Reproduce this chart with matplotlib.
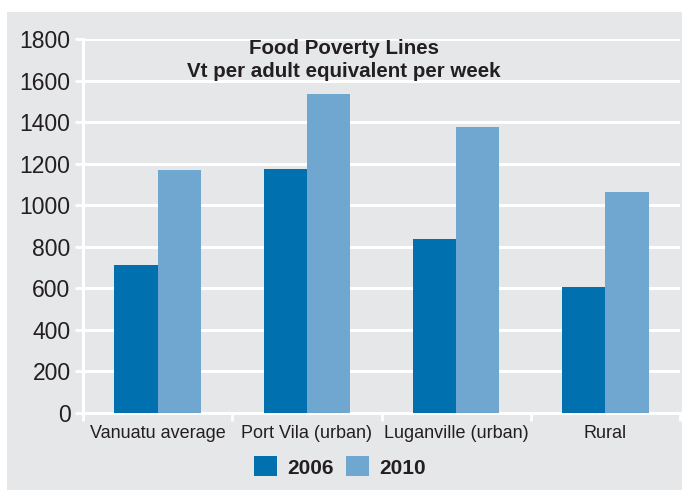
"""
Food Poverty Lines - Vt per adult equivalent per week, 2006 vs 2010.
"""

import matplotlib
matplotlib.use("Agg")
import matplotlib.pyplot as plt
import numpy as np
from matplotlib.patches import Patch, Rectangle

categories = ["Vanuatu average", "Port Vila (urban)", "Luganville (urban)", "Rural"]
years = ["2006", "2010"]
values_2006 = [711, 1173, 836, 605]
values_2010 = [1168, 1534, 1375, 1063]
yticks = [0, 200, 400, 600, 800, 1000, 1200, 1400, 1600, 1800]

DARK = "#0071ae"
LIGHT = "#6fa7d0"
PANEL = "#e6e7e9"
INK = "#231f20"

plt.rcParams["font.family"] = ["Liberation Sans", "DejaVu Sans"]

fig = plt.figure(figsize=(6.82, 4.91), dpi=100)
fig.patch.set_facecolor("white")
# pannello grigio dietro al grafico
fig.patches.append(Rectangle((7 / 682, 0.002), 1 - 7 / 682, 1 - 12 / 491 - 0.002,
                             transform=fig.transFigure, facecolor=PANEL,
                             edgecolor="none", zorder=-10))

ax = fig.add_axes([83 / 682, 1 - 413 / 491, (680 - 83) / 682, (413 - 39) / 491])
ax.patch.set_visible(False)

x = np.arange(len(categories))
w = 0.29
ax.bar(x - w / 2, values_2006, width=w, color=DARK, zorder=3)
ax.bar(x + w / 2, values_2010, width=w, color=LIGHT, zorder=3)

ax.set_xlim(-0.5, len(categories) - 0.5)
ax.set_ylim(0, 1800)
ax.set_yticks(yticks)
ax.set_yticklabels([str(v) for v in yticks], fontsize=16.5, color=INK)
ax.yaxis.grid(True, color="white", linewidth=2.2, zorder=1)
ax.set_axisbelow(True)

ax.set_xticks(x)
ax.set_xticklabels(categories, fontsize=13, color=INK)
ax.set_xticks(np.arange(len(categories) + 1) - 0.5, minor=True)
ax.tick_params(axis="x", which="major", length=0, pad=9)
ax.tick_params(axis="x", which="minor", length=6, width=2, color="white", direction="out")
ax.tick_params(axis="y", length=6, width=2, color="white", pad=3)

for side in ["top", "right"]:
    ax.spines[side].set_visible(False)
for side in ["left", "bottom"]:
    ax.spines[side].set_color("white")
    ax.spines[side].set_linewidth(2.2)
    ax.spines[side].set_zorder(2)

ax.text(0.437, 0.975, "Food Poverty Lines", transform=ax.transAxes, ha="center",
        va="center", fontsize=14.8, fontweight="bold", color=INK)
ax.text(0.437, 0.912, "Vt per adult equivalent per week", transform=ax.transAxes,
        ha="center", va="center", fontsize=14.8, fontweight="bold", color=INK)

handles = [Patch(facecolor=DARK, edgecolor="none"), Patch(facecolor=LIGHT, edgecolor="none")]
fig.legend(handles, years, loc="center", bbox_to_anchor=(340 / 682, 1 - 467 / 491),
           ncol=2, frameon=False, prop={"size": 15, "weight": "bold"},
           handlelength=1.1, handleheight=1.1, handletextpad=0.5, columnspacing=0.6,
           labelcolor=INK)

fig.savefig("out.png", dpi=100, facecolor=fig.get_facecolor())
